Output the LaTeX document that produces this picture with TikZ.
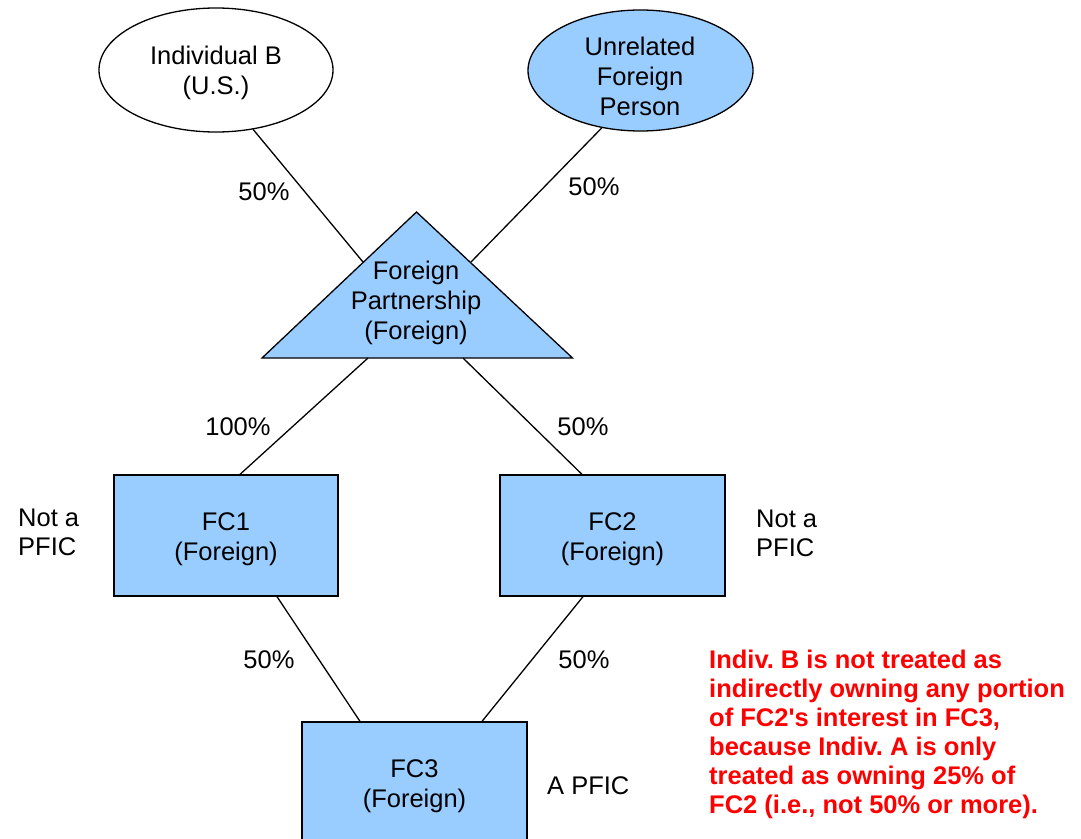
\documentclass[tikz,border=0pt]{standalone}
\usepackage{fontspec}
\setmainfont{Liberation Sans}
\usetikzlibrary{shapes.geometric,calc}
\definecolor{lblue}{HTML}{99CCFF}
\frenchspacing
\tikzset{
  txt/.style={font=\fontsize{25.5}{30}\selectfont, align=center, inner sep=0pt},
  lbl/.style={font=\fontsize{25.5}{30}\selectfont, inner sep=0pt},
  side/.style={font=\fontsize{25.5}{29}\selectfont, align=left, inner sep=0pt, anchor=west},
  note/.style={font=\fontsize{25.5}{29}\selectfont\bfseries, align=left, inner sep=0pt, anchor=west, text=red},
  oval/.style={ellipse, draw=black, line width=1.3pt, inner sep=0pt},
  entity/.style={rectangle, draw=black, fill=lblue, line width=1.3pt, inner sep=0pt, minimum height=121pt},
  link/.style={draw=black, line width=1.3pt}
}
\begin{document}
\begin{tikzpicture}[x=1pt,y=-1pt]
\useasboundingbox (0,0) rectangle (1081,838);
\clip (0,0) rectangle (1081,838);
\fill[white] (0,0) rectangle (1081,838);
% ovals
\node[oval, fill=white, minimum width=234pt, minimum height=124pt] (ib) at (216,70) {};
\node[txt] (ibt) at (216,73) {Individual B\\(U.S.)};
\node[oval, fill=lblue, minimum width=225pt, minimum height=121pt] (uf) at (640.5,70.5) {};
\node[txt] (uft) at (640,76) {Unrelated\\Foreign\\Person};
% triangle
\coordinate (tapex) at (416.5,212);
\coordinate (tbl) at (262,358);
\coordinate (tbr) at (572.5,358);
\draw[fill=lblue, line width=1.3pt, line join=miter] (tapex) -- (tbl) -- (tbr) -- cycle;
\node[txt] (fp) at (416,302.5) {Foreign\\Partnership\\(Foreign)};
\coordinate (tl) at (363,262);
\coordinate (tr) at (471,262);
\coordinate (tbl1) at (368,358);
\coordinate (tbr1) at (463,358);
% boxes
\node[entity, minimum width=224pt] (fc1) at (226,535.5) {};
\node[txt] at ([yshift=-3.5pt]fc1.center) {FC1\\(Foreign)};
\node[entity, minimum width=225pt] (fc2) at (612.5,535.5) {};
\node[txt] at ([yshift=-3.5pt]fc2.center) {FC2\\(Foreign)};
\node[entity, minimum width=225pt] (fc3) at (414.5,782.5) {};
\node[txt] at ([yshift=-3.5pt]fc3.center) {FC3\\(Foreign)};
% connectors
\draw[link] (ib.-58) -- (tl);
\draw[link] (uf.-124.5) -- (tr);
\draw[link] (tbl1) -- ([xshift=14pt]fc1.north);
\draw[link] (tbr1) -- ([xshift=-30.5pt]fc2.north);
\draw[link] ([xshift=51pt]fc1.south) -- ([xshift=-54.5pt]fc3.north);
\draw[link] ([xshift=-29.5pt]fc2.south) -- ([xshift=67.5pt]fc3.north);
% labels
\node[lbl] (l1) at (264,192) {50\%};
\node[lbl] (l2) at (594,187) {50\%};
\node[lbl] (l3) at (238,427) {100\%};
\node[lbl] (l4) at (583,427) {50\%};
\node[lbl] (l5) at (269,660) {50\%};
\node[lbl] (l6) at (584,660) {50\%};
\node[side] (np1) at (18,532) {Not a\\PFIC};
\node[side] (np2) at (756,533) {Not a\\PFIC};
\node[side] (ap) at (547,786) {A PFIC};
\node[note] (nt) at (709,734.5) {Indiv. B is not treated as\\indirectly owning any portion\\of FC2\textquotesingle s interest in FC3,\\because Indiv. A is only\\treated as owning 25\% of\\FC2 (i.e., not 50\% or more).};
\end{tikzpicture}
\end{document}
